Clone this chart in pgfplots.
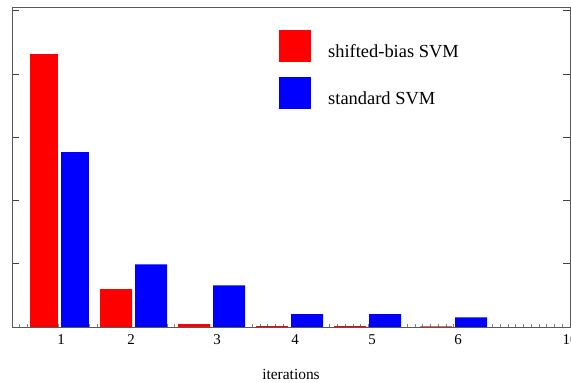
\documentclass[border=0pt]{standalone}
\usepackage{pgfplots}
\pgfplotsset{compat=1.18}
\usepackage{fontspec}
\setmainfont{Liberation Serif}
\begin{document}
\begin{tikzpicture}
\path[use as bounding box] (0,0) rectangle (571bp,383bp);
\begin{axis}[
  at={(12bp,56bp)}, anchor=south west,
  scale only axis, width=558bp, height=320bp,
  xmin=12, xmax=570, ymin=0, ymax=5.06,
  /pgf/number format/assume math mode=true,
  axis line style={draw=black!65, line width=0.7pt},
  xtick={61,131,217,295,372,458,570},
  xticklabels={1,2,3,4,5,6,10},
  xtick pos=left,
  minor xtick={12,19.75,...,570},
  major x tick style={draw=none},
  minor x tick style={draw=black!50, line width=0.6pt},
  minor tick length=2.5bp,
  ytick={1,2,3,4,5},
  yticklabels={},
  ytick pos=both,
  tick align=inside,
  major tick length=7bp,
  y tick style={draw=black!75, line width=0.7pt},
  tick label style={font=\fontsize{15}{18}\selectfont},
  xticklabel style={yshift=-4bp},
  xlabel={iterations},
  every axis x label/.style={at={(axis description cs:0.5,-0.147)}, anchor=center,
    font=\fontsize{15.5}{18}\selectfont},
  legend style={draw=none, fill=none, at={(0.4785,0.928)}, anchor=north west,
    inner sep=0pt, row sep=15bp, column sep=17bp, nodes={inner sep=0pt},
    font=\fontsize{18.5}{22}\selectfont},
  legend cell align=left,
  legend image code/.code={\fill[#1] (0bp,-10bp) rectangle (32bp,22bp);},
]
\addplot[ybar, bar shift=0pt, bar width=28, fill=red, draw=none, forget plot]
  coordinates {(44,4.32)};
\addplot[ybar, bar shift=0pt, bar width=32, fill=red, draw=none]
  coordinates {(116,0.60) (194,0.047) (272,0.014) (350,0.012) (436,0.010)};
\addlegendentry{shifted-bias SVM}
\addplot[ybar, bar shift=0pt, bar width=28, fill=blue, draw=none, forget plot]
  coordinates {(75,2.76)};
\addplot[ybar, bar shift=0pt, bar width=32, fill=blue, draw=none]
  coordinates {(151,0.99) (229,0.66) (307,0.205) (385,0.205) (471,0.153)};
\addlegendentry{standard SVM}
\draw[black, line width=0.8pt] (rel axis cs:0,0) -- (rel axis cs:1,0);
\end{axis}
\end{tikzpicture}
\end{document}
